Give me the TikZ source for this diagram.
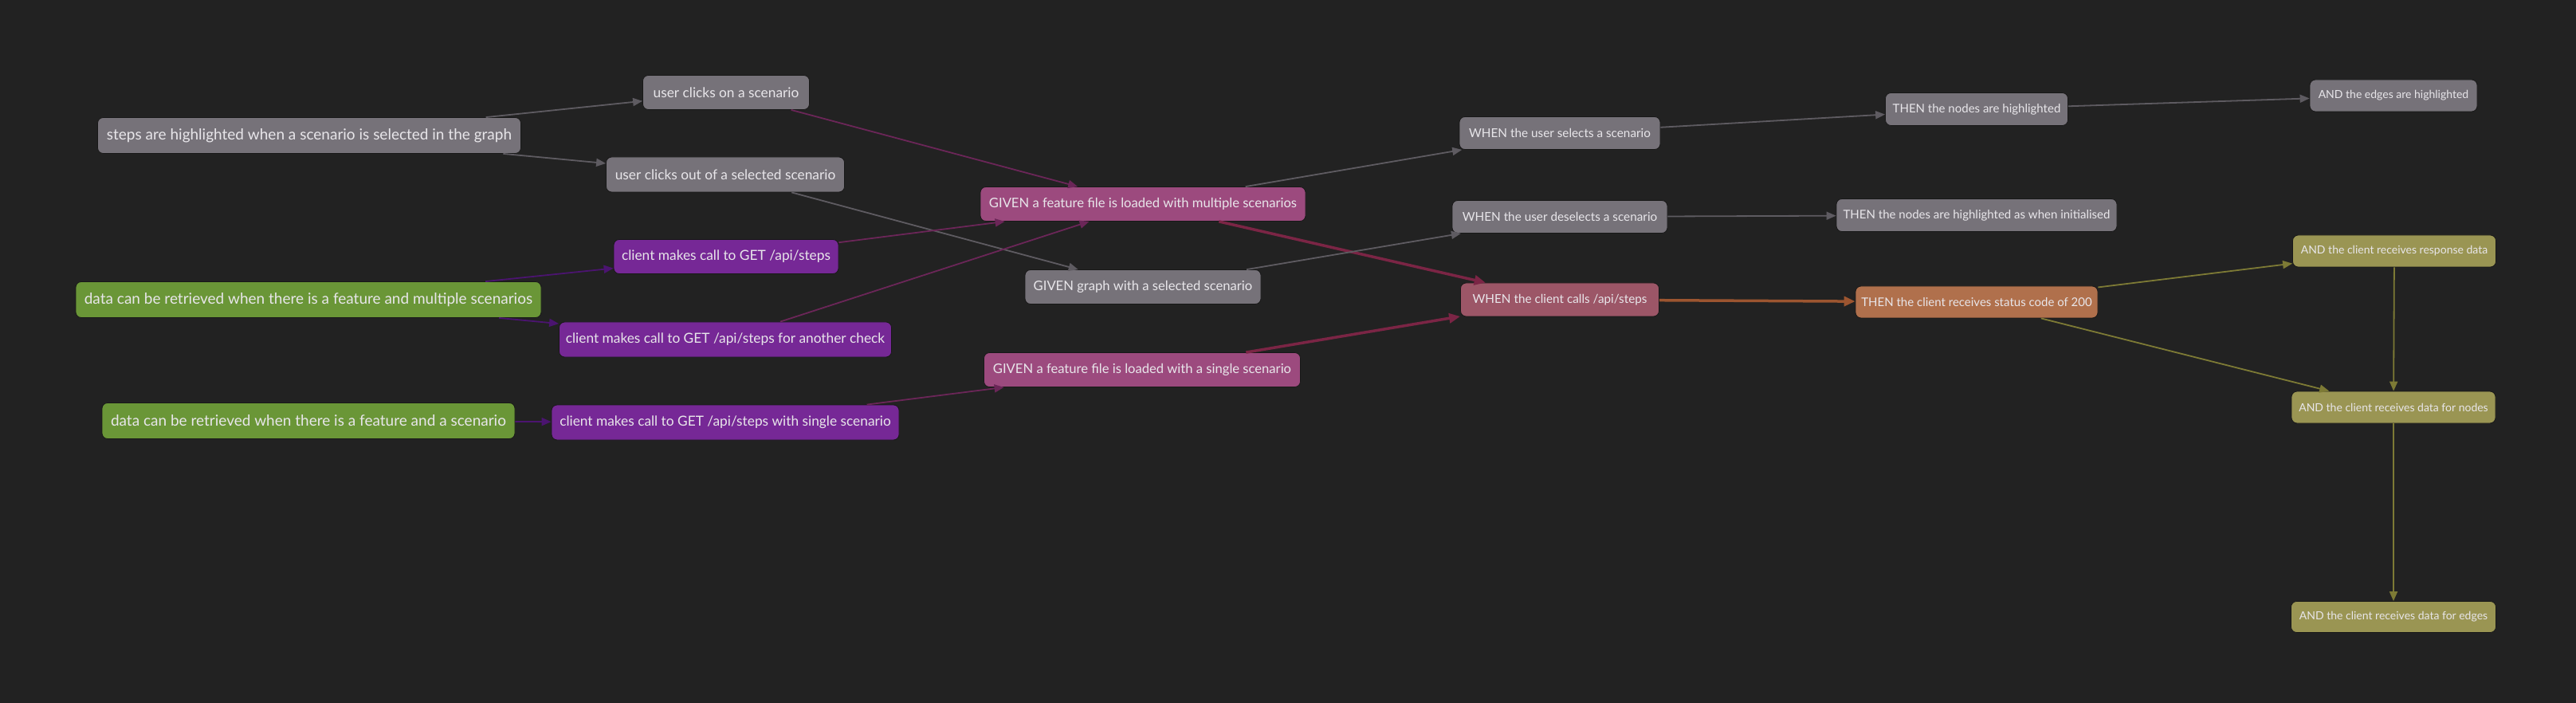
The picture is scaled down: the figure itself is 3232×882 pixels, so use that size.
\documentclass[tikz,border=0pt]{standalone}
\usepackage{fontspec}
\setmainfont{Lato}
\usetikzlibrary{arrows.meta}
\definecolor{bg}{HTML}{222222}
\definecolor{greyn}{HTML}{767279}
\definecolor{greenn}{HTML}{6A9637}
\definecolor{purplen}{HTML}{762896}
\definecolor{pinkn}{HTML}{9C4A7E}
\definecolor{roseN}{HTML}{9C5667}
\definecolor{orangen}{HTML}{B0704C}
\definecolor{oliven}{HTML}{9A9553}
\definecolor{txt}{HTML}{E8E6EA}
\definecolor{greyl}{HTML}{5E5B61}
\definecolor{purplel}{HTML}{4B1470}
\definecolor{magl}{HTML}{6B2658}
\definecolor{crimsonl}{HTML}{7B2545}
\definecolor{orangel}{HTML}{9C5530}
\definecolor{olivel}{HTML}{7D7A35}
\tikzset{
  box/.style={rounded corners=7pt, inner sep=0pt, text=txt, draw=bg!70!black, line width=0.8pt, align=center},
  fa/.style={font=\fontsize{19}{21}\selectfont},
  fb/.style={font=\fontsize{17.3}{19}\selectfont},
  fc/.style={font=\fontsize{16.6}{18}\selectfont},
  fw/.style={font=\fontsize{15.3}{17}\selectfont},
  fd/.style={font=\fontsize{15}{17}\selectfont},
  fg/.style={font=\fontsize{14}{16}\selectfont},
  gbox/.style={box, fill=greyn},
  grbox/.style={box, fill=greenn},
  pbox/.style={box, fill=purplen},
  pkbox/.style={box, fill=pinkn},
  rbox/.style={box, fill=roseN},
  obox/.style={box, fill=orangen},
  olbox/.style={box, fill=oliven},
  edge/.style={-{Triangle[length=12pt,width=10pt]}, line width=1.8pt},
  gedge/.style={edge, draw=greyl, fill=greyl},
  pedge/.style={edge, draw=purplel},
  medge/.style={edge, draw=magl},
  cedge/.style={edge, draw=crimsonl, line width=3.5pt, -{Triangle[length=14pt,width=12pt]}},
  oedge/.style={edge, draw=orangel, line width=3.5pt, -{Triangle[length=14pt,width=12pt]}},
  oledge/.style={edge, draw=olivel},
}
\begin{document}
\begin{tikzpicture}[x=1pt,y=-1pt]
\fill[bg] (0,0) rectangle (3232,882);
\useasboundingbox (0,0) rectangle (3232,882);
% column 1
\node[gbox,fa,minimum width=531pt,minimum height=45pt] (A) at (388,170) {steps are highlighted when a scenario is selected in the graph};
\node[grbox,fa,minimum width=584pt,minimum height=45pt] (G1) at (387,376) {data can be retrieved when there is a feature and multiple scenarios};
\node[grbox,fa,minimum width=518pt,minimum height=45pt] (G2) at (387,528) {data can be retrieved when there is a feature and a scenario};
% column 2
\node[gbox,fb,minimum width=209pt,minimum height=43pt] (UCS) at (911,116) {user clicks on a scenario};
\node[gbox,fb,minimum width=299pt,minimum height=44pt] (UCO) at (910,219) {user clicks out of a selected scenario};
\node[pbox,fb,minimum width=282pt,minimum height=43pt] (C1) at (911,322) {client makes call to GET /api/steps};
\node[pbox,fb,minimum width=417pt,minimum height=44pt] (C2) at (910,426) {client makes call to GET /api/steps for another check};
\node[pbox,fb,minimum width=436pt,minimum height=44pt] (C3) at (910,530) {client makes call to GET /api/steps with single scenario};
% column 3
\node[pkbox,fc,minimum width=408pt,minimum height=43pt] (GM) at (1434,256) {GIVEN a feature file is loaded with multiple scenarios};
\node[gbox,fc,minimum width=296pt,minimum height=43pt] (GG) at (1434,360) {GIVEN graph with a selected scenario};
\node[pkbox,fc,minimum width=397pt,minimum height=43pt] (GS) at (1433,464) {GIVEN a feature file is loaded with a single scenario};
% column 4
\node[gbox,fw,minimum width=252pt,minimum height=41pt] (WS) at (1957,167) {WHEN the user selects a scenario};
\node[gbox,fw,minimum width=270pt,minimum height=41pt] (WD) at (1957,272) {WHEN the user deselects a scenario};
\node[rbox,fw,minimum width=249pt,minimum height=42pt] (WC) at (1957,376) {WHEN the client calls /api/steps};
% column 5
\node[gbox,fd,minimum width=229pt,minimum height=41pt] (TN) at (2480,137) {THEN the nodes are highlighted};
\node[gbox,fd,minimum width=352pt,minimum height=41pt] (TI) at (2480,270) {THEN the nodes are highlighted as when initialised};
\node[obox,fd,minimum width=304pt,minimum height=40pt] (T2) at (2480,379) {THEN the client receives status code of 200};
% column 6
\node[gbox,fg,minimum width=210pt,minimum height=40pt] (AE) at (3003,120) {AND the edges are highlighted};
\node[olbox,fg,minimum width=255pt,minimum height=40pt] (AR) at (3004,315) {AND the client receives response data};
\node[olbox,fg,minimum width=256pt,minimum height=40pt] (AN) at (3003,511) {AND the client receives data for nodes};
\node[olbox,fg,minimum width=257pt,minimum height=39pt] (AD) at (3003,774) {AND the client receives data for edges};
% edges
\draw[gedge] (A) -- (UCS);
\draw[gedge] (A) -- (UCO);
\draw[pedge] (G1) -- (C1);
\draw[pedge] (G1) -- (C2);
\draw[pedge] (G2) -- (C3);
\draw[medge] (UCS) -- (GM);
\draw[gedge] (UCO) -- (GG);
\draw[medge] (C1) -- (GM);
\draw[medge] (C2) -- (GM);
\draw[medge] (C3) -- (GS);
\draw[gedge] (GM) -- (WS);
\draw[cedge] (GM) -- (WC);
\draw[gedge] (GG) -- (WD);
\draw[cedge] (GS) -- (WC);
\draw[gedge] (WS) -- (TN);
\draw[gedge] (TN) -- (AE);
\draw[gedge] (WD) -- (TI);
\draw[oedge] (WC) -- (T2);
\draw[oledge] (T2) -- (AR);
\draw[oledge] (T2) -- (AN);
\draw[oledge] (AR) -- (AN);
\draw[oledge] (AN) -- (AD);
\end{tikzpicture}
\end{document}
